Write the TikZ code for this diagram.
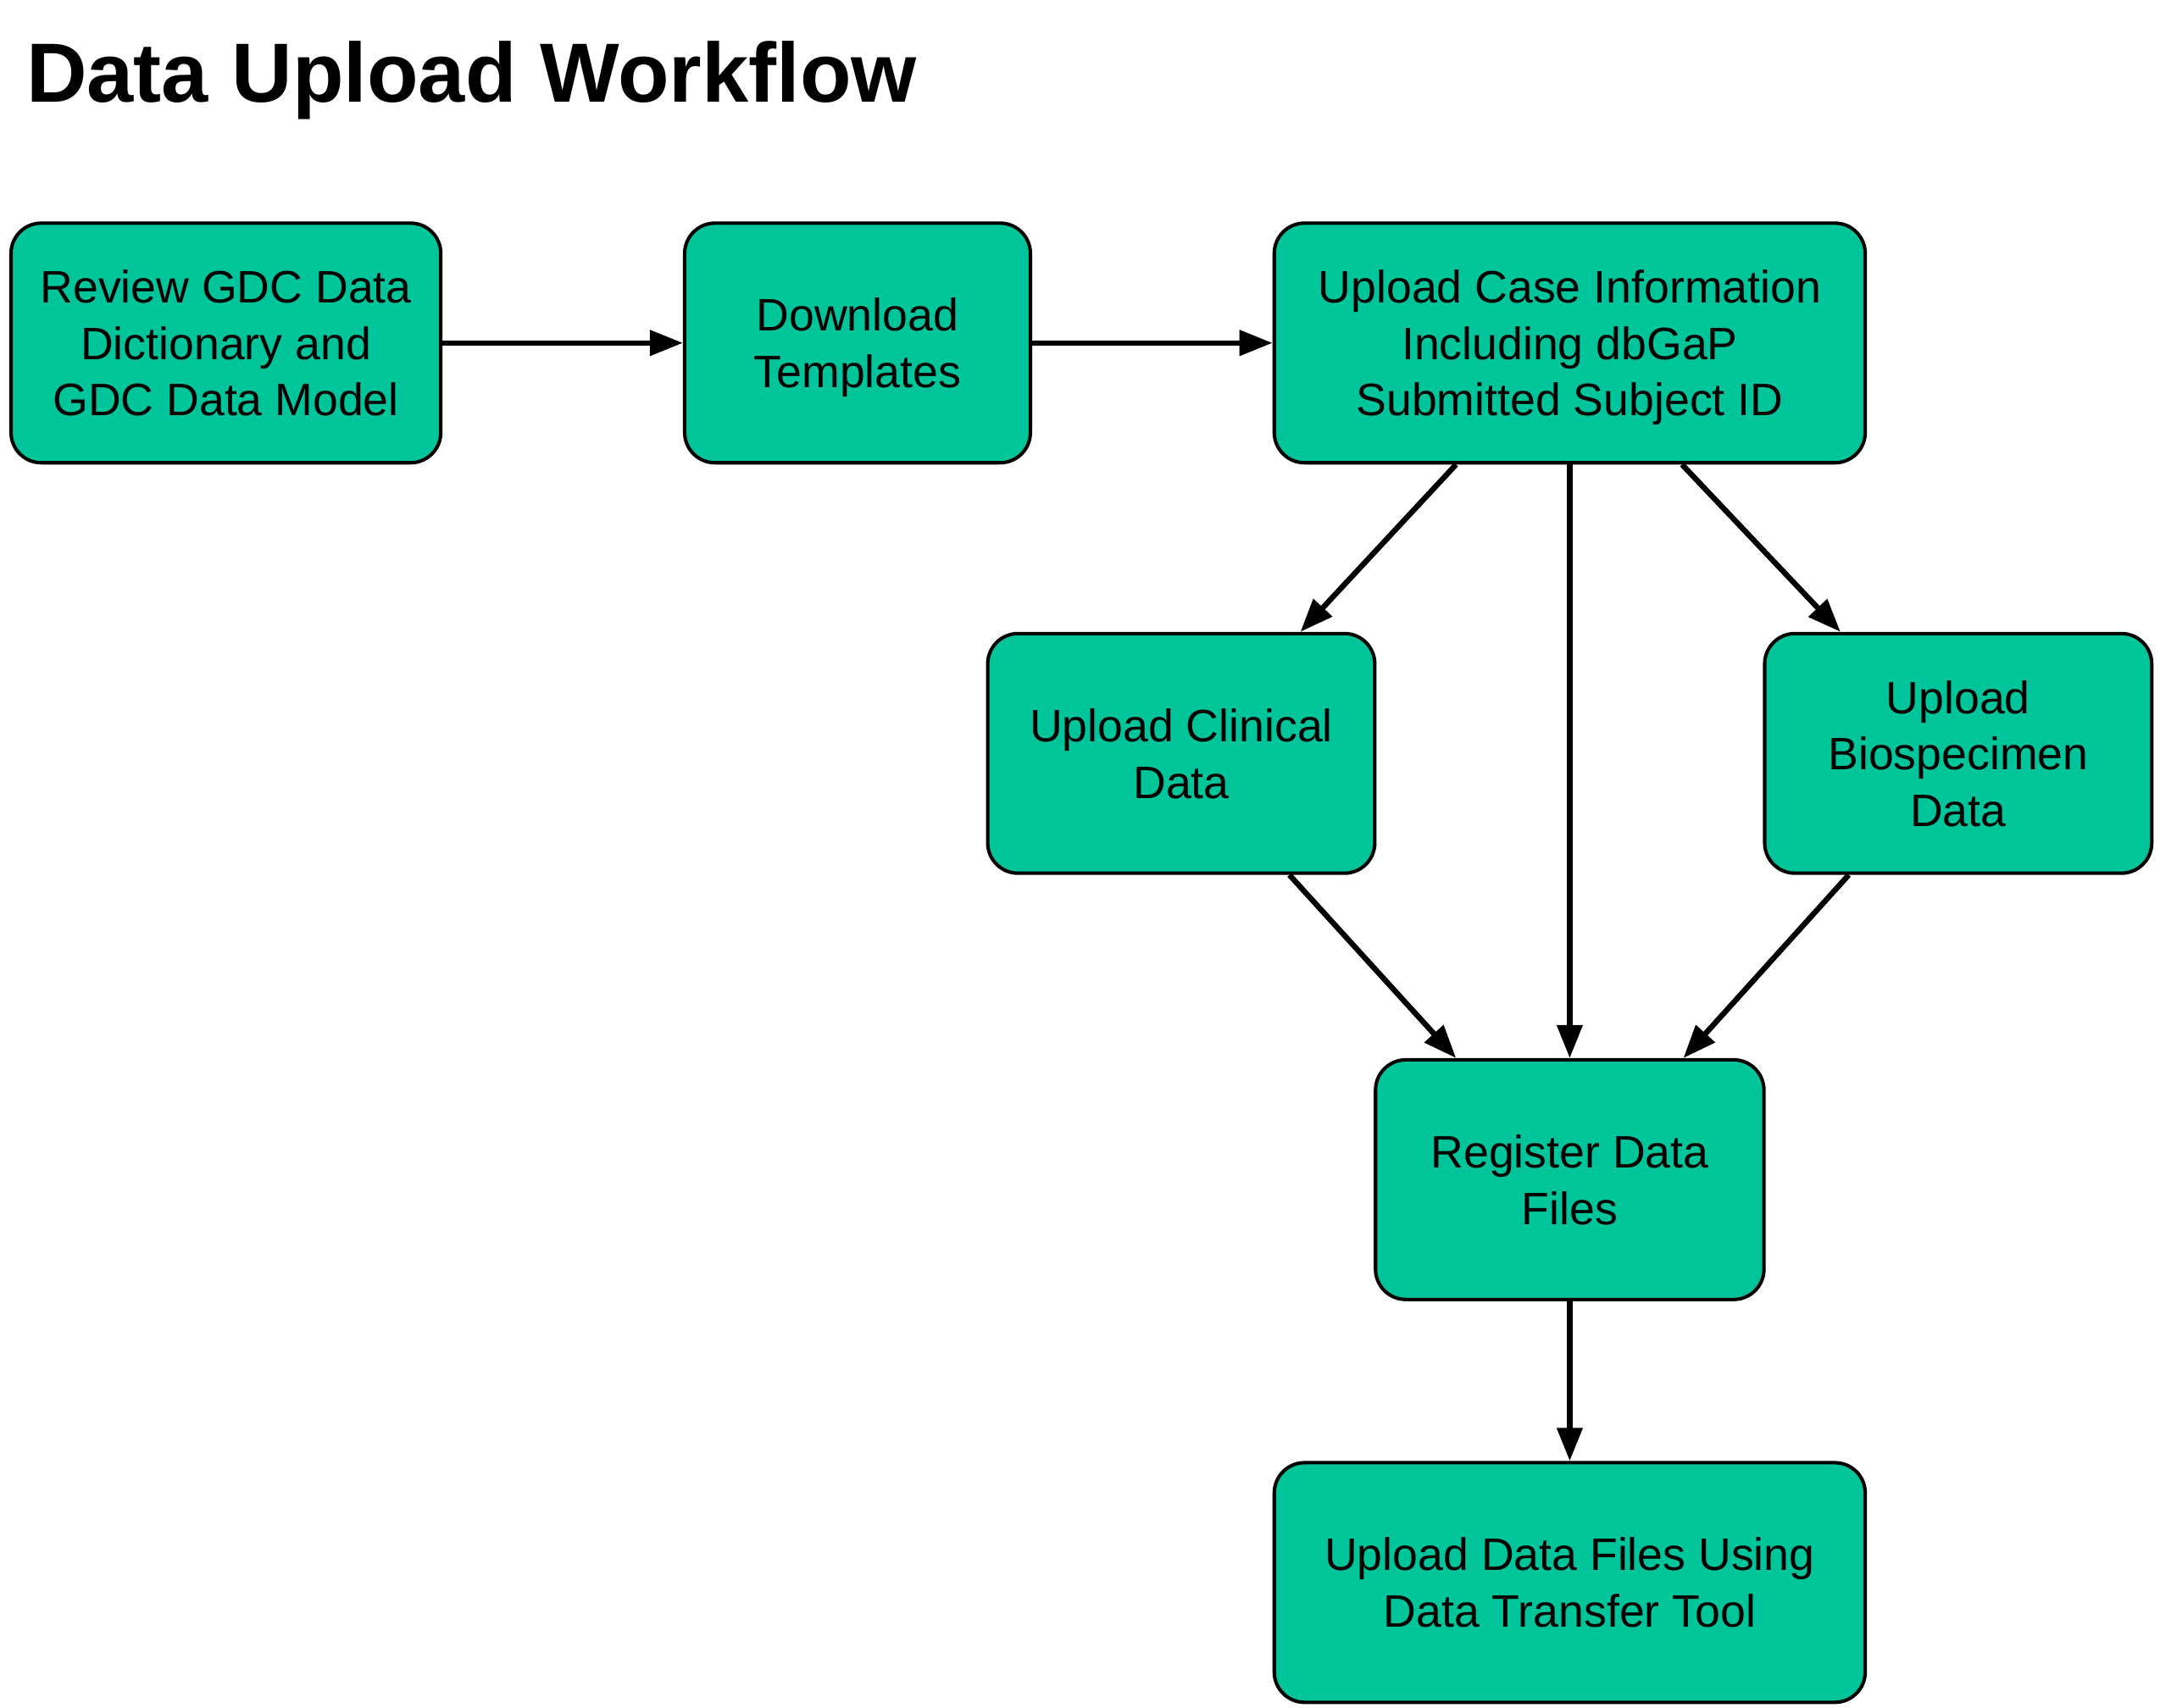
\documentclass[tikz,border=0pt]{standalone}
\usepackage{fontspec}
\setmainfont{Liberation Sans}
\usetikzlibrary{arrows.meta}
\definecolor{boxgreen}{HTML}{00C49A}
\begin{document}
\begin{tikzpicture}[x=1pt,y=-1pt,
  stepbox/.style={draw=black, line width=2.5pt, fill=boxgreen, rounded corners=22pt,
    align=center, inner sep=0pt, text depth=0pt, font=\fontsize{33}{41}\selectfont},
  flow/.style={line width=4pt, -{Triangle[length=24pt,width=18pt]}}]
\useasboundingbox (0,0) rectangle (1568,1240);
\node[anchor=base west, inner sep=0pt, font=\fontsize{61}{70}\selectfont\bfseries] (title) at (19,74) {Data Upload Workflow};
\node[stepbox, minimum width=312pt, minimum height=174pt] (A) at (164,249) {Review GDC Data\\Dictionary and\\GDC Data Model};
\node[stepbox, minimum width=251pt, minimum height=174pt] (B) at (622.5,249) {Download\\Templates};
\node[stepbox, minimum width=429pt, minimum height=174pt] (C) at (1139.5,249) {Upload Case Information\\Including dbGaP\\Submitted Subject ID};
\node[stepbox, minimum width=281pt, minimum height=174pt] (D) at (857.5,547) {Upload Clinical\\Data};
\node[stepbox, minimum width=281pt, minimum height=174pt] (E) at (1421.5,547) {Upload\\Biospecimen\\Data};
\node[stepbox, minimum width=282pt, minimum height=174pt] (F) at (1139.5,856.5) {Register Data\\Files};
\node[stepbox, minimum width=429pt, minimum height=174pt] (G) at (1139.5,1149) {Upload Data Files Using\\Data Transfer Tool};
\draw[flow] (A.east) -- (B.west);
\draw[flow] (B.east) -- (C.west);
\draw[flow] ([xshift=-82.5pt]C.south) -- ([xshift=86.5pt]D.north);
\draw[flow] (C.south) -- (F.north);
\draw[flow] ([xshift=81.5pt]C.south) -- ([xshift=-85.5pt]E.north);
\draw[flow] ([xshift=78.5pt]D.south) -- ([xshift=-82.5pt]F.north);
\draw[flow] ([xshift=-79.5pt]E.south) -- ([xshift=82.5pt]F.north);
\draw[flow] (F.south) -- (G.north);
\end{tikzpicture}
\end{document}
